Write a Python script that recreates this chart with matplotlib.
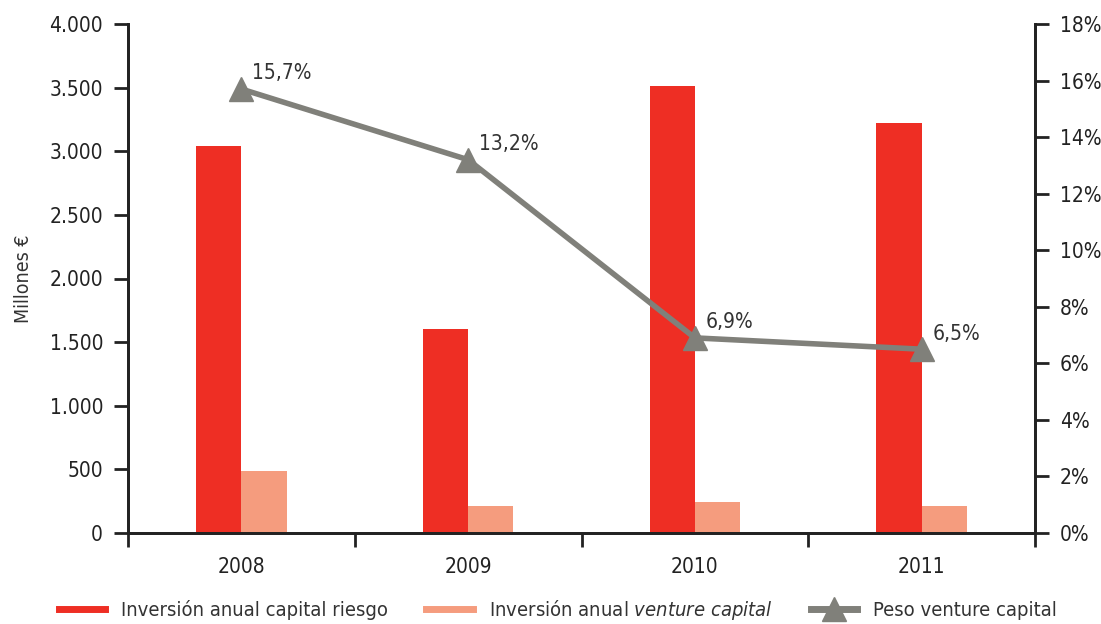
import matplotlib
matplotlib.use("Agg")
import matplotlib.pyplot as plt
import numpy as np
from matplotlib.ticker import FuncFormatter
from matplotlib.lines import Line2D
from matplotlib import font_manager

# pick a narrow font if one is installed
names = [(f.name, f.stretch, f.fname) for f in font_manager.fontManager.ttflist]
narrow = [n for n in names if 'Narrow' in n[0] or 'Condensed' in n[0] or 'ondensed' in str(n[1]) or 'Narrow' in n[2]]
font_name = narrow[0][0] if narrow else 'Roboto'
stretch = narrow[0][1] if narrow else 'normal'
plt.rcParams['font.family'] = [font_name, 'DejaVu Sans']
plt.rcParams['font.stretch'] = stretch
plt.rcParams['text.color'] = '#333333'
plt.rcParams['axes.labelcolor'] = '#333333'
plt.rcParams['xtick.color'] = '#222222'
plt.rcParams['ytick.color'] = '#222222'

# data
years = ['2008', '2009', '2010', '2011']
capital_riesgo = [3040, 1603, 3513, 3222]
venture_capital = [487, 212, 244, 212]
peso_vc = [15.7, 13.2, 6.9, 6.5]
peso_labels = ['15,7%', '13,2%', '6,9%', '6,5%']

red = '#ee2e24'
salmon = '#f59c7e'
grey = '#80807a'

fig = plt.figure(figsize=(11.01, 6.24), dpi=100)
ax = fig.add_axes([128 / 1101, 1 - 533 / 624, (1035 - 128) / 1101, (533 - 24) / 624])
ax2 = ax.twinx()

x = np.arange(len(years))
w = 0.2
ax.bar(x - w, capital_riesgo, width=w, align='edge', color=red, zorder=2)
ax.bar(x, venture_capital, width=w, align='edge', color=salmon, zorder=2)

ax2.plot(x, peso_vc, color=grey, lw=4, marker='^', markersize=17, zorder=3)
for xi, v, lab in zip(x, peso_vc, peso_labels):
    ax2.annotate(lab, (xi, v), xytext=(8, 4), textcoords='offset points',
                 fontsize=15, ha='left', va='bottom')

ax.set_xlim(-0.5, 3.5)
ax.set_ylim(0, 4000)
ax2.set_ylim(0, 18)
ax.set_yticks(np.arange(0, 4001, 500))
ax.yaxis.set_major_formatter(FuncFormatter(lambda v, p: f'{int(v):,}'.replace(',', '.')))
ax2.set_yticks(np.arange(0, 19, 2))
ax2.yaxis.set_major_formatter(FuncFormatter(lambda v, p: f'{int(v)}%'))

ax.set_xticks(np.arange(-0.5, 4, 1))
ax.set_xticklabels([])
ax.set_xticks(x, minor=True)
ax.set_xticklabels(years, minor=True)
ax.tick_params(axis='x', which='major', length=10, width=2, direction='out')
ax.tick_params(axis='x', which='minor', length=0, pad=17, labelsize=15)
ax.tick_params(axis='y', length=10, width=2, labelsize=15, pad=8)
ax2.tick_params(axis='y', length=10, width=2, labelsize=15, pad=8)

for a in (ax, ax2):
    a.spines['top'].set_visible(False)
    for s in ('left', 'right', 'bottom'):
        a.spines[s].set_linewidth(2)
        a.spines[s].set_color('#222222')

ax.set_ylabel('Millones €', fontsize=14, labelpad=12)

handles = [
    Line2D([], [], color=red, lw=5),
    Line2D([], [], color=salmon, lw=5),
    Line2D([], [], color=grey, lw=5, marker='^', markersize=17),
]
labels = ['Inversión anual capital riesgo', 'Inversión anual $\\it{venture\\ capital}$', 'Peso venture capital']
fig.legend(handles, labels, loc='center', bbox_to_anchor=(558 / 1101, 1 - 610 / 624), ncol=3,
           frameon=False, fontsize=14.5, handlelength=2.3, handletextpad=0.8,
           columnspacing=1.9)

fig.savefig('out.png', dpi=100)
